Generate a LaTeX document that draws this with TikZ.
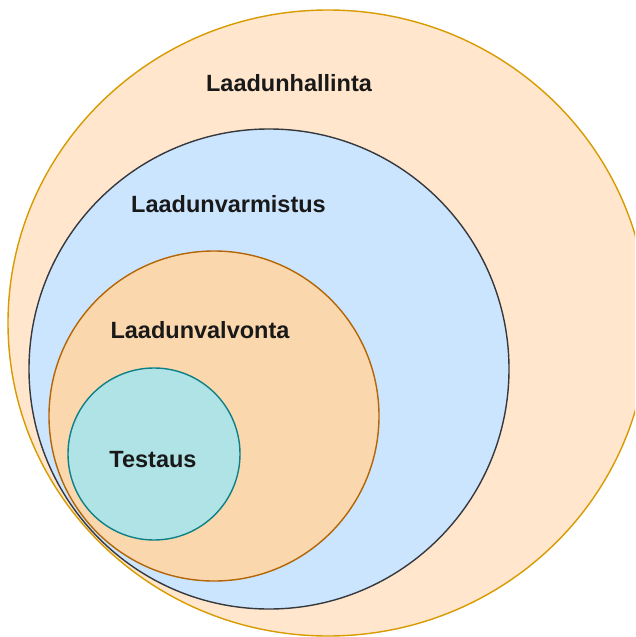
\documentclass[tikz,border=0pt]{standalone}
\usepackage{fontspec}
\setmainfont{Liberation Sans}
\usetikzlibrary{shapes.geometric}
\definecolor{oFill}{HTML}{FFE6CC}
\definecolor{oDraw}{HTML}{D79B00}
\definecolor{bFill}{HTML}{CCE5FF}
\definecolor{bDraw}{HTML}{36393D}
\definecolor{iFill}{HTML}{FAD7AC}
\definecolor{iDraw}{HTML}{B46504}
\definecolor{tFill}{HTML}{B0E3E6}
\definecolor{tDraw}{HTML}{0E8088}
\tikzset{
  ring/.style={inner sep=0pt, outer sep=0pt, line width=1.4pt},
  lbl/.style={anchor=base, inner sep=0pt, font=\fontsize{23.5}{28}\selectfont\bfseries, text=black!90}
}
\begin{document}
\begin{tikzpicture}[x=1pt,y=-1pt]
\useasboundingbox (0,0) rectangle (635,637);
\clip (0,0) rectangle (635,637);
\node[ring, ellipse, draw=oDraw, fill=oFill, minimum width=640, minimum height=626] (outer) at (328,323) {};
\node[ring, circle, draw=bDraw, fill=bFill, minimum size=480] (qa) at (269,369) {};
\node[ring, circle, draw=iDraw, fill=iFill, minimum size=330] (qc) at (214,416) {};
\node[ring, circle, draw=tDraw, fill=tFill, minimum size=172] (test) at (154,454) {};
\node[lbl] (l1) at (289,91) {Laadunhallinta};
\node[lbl] (l2) at (228.5,212) {Laadunvarmistus};
\node[lbl] (l3) at (200,338) {Laadunvalvonta};
\node[lbl] (l4) at (153,467) {Testaus};
\end{tikzpicture}
\end{document}
